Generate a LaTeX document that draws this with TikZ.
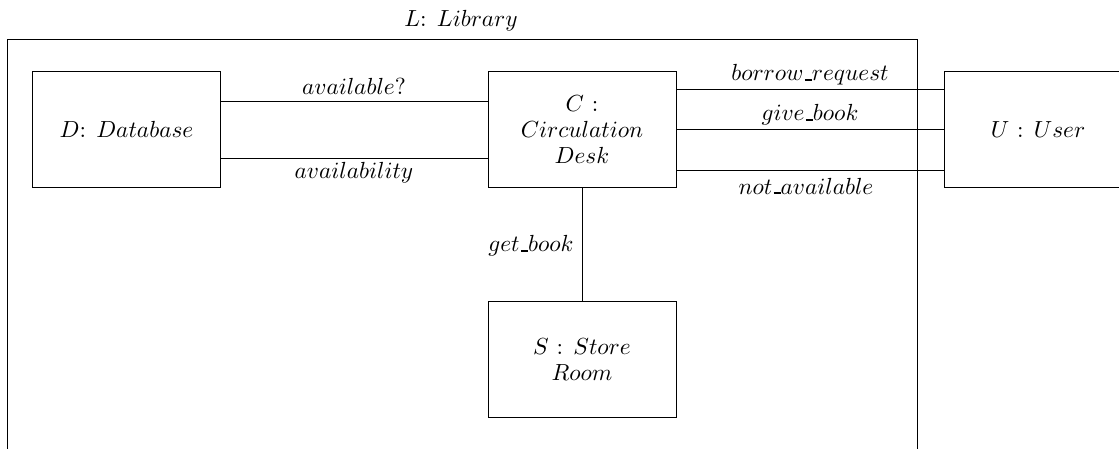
\documentclass[tikz,border=0pt]{standalone}
\newcommand{\ubar}{\mbox{\kern.06em\vbox{\hrule width.3em height 0.7pt}}}
\begin{document}
\begin{tikzpicture}[x=0.4292pt,y=-0.4292pt,
  box/.style={draw,line width=0.42pt,minimum width=80.7pt,minimum height=49.4pt,inner sep=0pt,align=center},
  lbl/.style={inner sep=0pt},
  conn/.style={line width=0.42pt}]
\useasboundingbox (0,0) rectangle (1119,449);
\clip (0,0) rectangle (1119,449);
% outer library frame
\coordinate (LTL) at (7,39);
\coordinate (LBR) at (917,520);
\draw[line width=0.42pt] (LTL) rectangle (LBR);
\node[lbl] (Ltitle) at (461,21) {$L$: $Library$};
% boxes
\node[box] (D) at (126.5,129.5) {$D$: $Database$};
\node[box] (C) at (582,129.5) {$C$ :\\[-1pt] $Circulation$\\[-1pt] $Desk$};
\node[box] (U) at (1038,129.5) {$U$ : $User$};
\node[box] (S) at (582,359.5) {$S$ : $Store$\\[-1pt] $Room$};
% helper y levels
\coordinate (y1) at (0,101);
\coordinate (y2) at (0,158);
\coordinate (y3) at (0,89);
\coordinate (y4) at (0,129);
\coordinate (y5) at (0,170);
% D - C
\draw[conn] (D.east |- y1) -- (C.west |- y1);
\draw[conn] (D.east |- y2) -- (C.west |- y2);
\node[lbl] (l1) at (354,86) {$available?$};
\node[lbl] (l2) at (354,173) {$availability$};
% C - U
\draw[conn] (C.east |- y3) -- (U.west |- y3);
\draw[conn] (C.east |- y4) -- (U.west |- y4);
\draw[conn] (C.east |- y5) -- (U.west |- y5);
\node[lbl] (l3) at (810,75) {$borrow\ubar request$};
\node[lbl] (l4) at (810,115) {$give\ubar book$};
\node[lbl] (l5) at (806,186) {$not\ubar available$};
% C - S
\draw[conn] (C.south) -- (S.north);
\node[lbl,anchor=east] (l6) at (574,246) {$get\ubar book$};
\end{tikzpicture}
\end{document}
